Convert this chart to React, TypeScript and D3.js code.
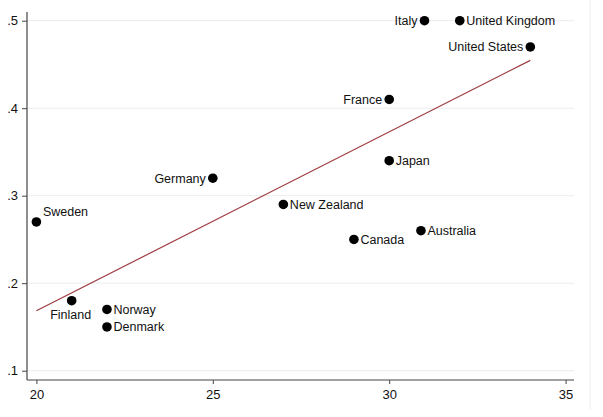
import { useEffect, useRef } from 'react';
import * as d3 from 'd3';

const countries = [
  'Sweden', 'Finland', 'Norway', 'Denmark', 'Germany', 'New Zealand', 'Canada',
  'Japan', 'France', 'Australia', 'Italy', 'United Kingdom', 'United States',
];
const xValues = [20, 21, 22, 22, 25, 27, 29, 30, 30, 30.9, 31, 32, 34];
const yValues = [0.27, 0.18, 0.17, 0.15, 0.32, 0.29, 0.25, 0.34, 0.41, 0.26, 0.5, 0.5, 0.47];
const xTicks = [20, 25, 30, 35];
const yTicks = [0.1, 0.2, 0.3, 0.4, 0.5];

// where each label sits relative to its marker
const labelSide: Record<string, string> = {
  Sweden: 'upright',
  Finland: 'below',
  Germany: 'left',
  France: 'left',
  Italy: 'left',
  'United States': 'left',
};

const App = () => {
  const chartRef = useRef<SVGSVGElement>(null);

  useEffect(() => {
    if (!chartRef.current) return;
    document.body.style.margin = '0';
    d3.select(chartRef.current).selectAll('*').remove();

    const width = 603;
    const height = 417;
    const plot = { left: 27, right: 574, top: 12, bottom: 380 };
    const font = '"Liberation Sans", Arial, Helvetica, sans-serif';

    const svg = d3.select(chartRef.current)
      .attr('width', width)
      .attr('height', height);

    svg.append('rect').attr('width', width).attr('height', height).attr('fill', '#fff');
    // faint outer frame on the right
    svg.append('line')
      .attr('x1', 590).attr('x2', 590).attr('y1', 0).attr('y2', 410)
      .attr('stroke', '#eeeeee');

    const x = d3.scaleLinear().domain([20, 35]).range([36.4, 565.6]);
    const y = d3.scaleLinear().domain([0.1, 0.5]).range([370.7, 20.7]);

    // grid lines
    svg.append('g')
      .selectAll('line')
      .data(yTicks)
      .enter()
      .append('line')
      .attr('x1', plot.left)
      .attr('x2', plot.right)
      .attr('y1', d => y(d))
      .attr('y2', d => y(d))
      .attr('stroke', '#ececec')
      .attr('stroke-width', 1);

    const fmt = (d: number) => d3.format('.1f')(d).replace(/^0/, '');

    // y axis
    const yAxis = svg.append('g')
      .attr('transform', `translate(${plot.left},0)`)
      .call(d3.axisLeft(y).tickValues(yTicks).tickFormat(d => fmt(d as number)).tickSize(5).tickPadding(4));
    yAxis.select('.domain').attr('d', `M0,${plot.top}V${plot.bottom}`);

    // x axis
    const xAxis = svg.append('g')
      .attr('transform', `translate(0,${plot.bottom})`)
      .call(d3.axisBottom(x).tickValues(xTicks).tickFormat(d => String(d)).tickSize(4).tickPadding(6));
    xAxis.select('.domain').attr('d', `M${plot.left},0H${plot.right}`);

    [yAxis, xAxis].forEach(ax => {
      ax.selectAll('.domain').attr('stroke', '#444').attr('stroke-width', 1.2);
      ax.selectAll('.tick line').attr('stroke', '#444');
      ax.selectAll('text').attr('fill', '#111').style('font-family', font).style('font-size', '13px');
    });

    // least squares fit
    const mx = d3.mean(xValues) || 0;
    const my = d3.mean(yValues) || 0;
    const sxy = d3.sum(xValues, (v, i) => (v - mx) * (yValues[i] - my));
    const sxx = d3.sum(xValues, v => (v - mx) * (v - mx));
    const slope = sxy / sxx;
    const intercept = my - slope * mx;
    const xExt = d3.extent(xValues) as [number, number];
    svg.append('path')
      .datum(xExt)
      .attr('d', d3.line<number>().x(d => x(d)).y(d => y(intercept + slope * d)))
      .attr('fill', 'none')
      .attr('stroke', '#9e3c40')
      .attr('stroke-width', 1.2);

    const pts = countries.map((c, i) => ({ name: c, xv: xValues[i], yv: yValues[i] }));

    svg.append('g')
      .selectAll('circle')
      .data(pts)
      .enter()
      .append('circle')
      .attr('cx', d => x(d.xv))
      .attr('cy', d => y(d.yv))
      .attr('r', 4.8)
      .attr('fill', '#000');

    svg.append('g')
      .selectAll('text')
      .data(pts)
      .enter()
      .append('text')
      .attr('x', d => {
        const side = labelSide[d.name] || 'right';
        if (side === 'left') return x(d.xv) - 7;
        if (side === 'below') return x(d.xv) - 1;
        return x(d.xv) + 6.5;
      })
      .attr('y', d => {
        const side = labelSide[d.name] || 'right';
        if (side === 'upright') return y(d.yv) - 6;
        if (side === 'below') return y(d.yv) + 18;
        return y(d.yv) + 4.5;
      })
      .attr('text-anchor', d => {
        const side = labelSide[d.name] || 'right';
        if (side === 'left') return 'end';
        if (side === 'below') return 'middle';
        return 'start';
      })
      .attr('fill', '#111')
      .style('font-family', font)
      .style('font-size', '12.5px')
      .text(d => d.name);
  }, []);

  return (
    <div>
      <svg ref={chartRef} style={{ display: 'block' }} />
    </div>
  );
};

export default App;
